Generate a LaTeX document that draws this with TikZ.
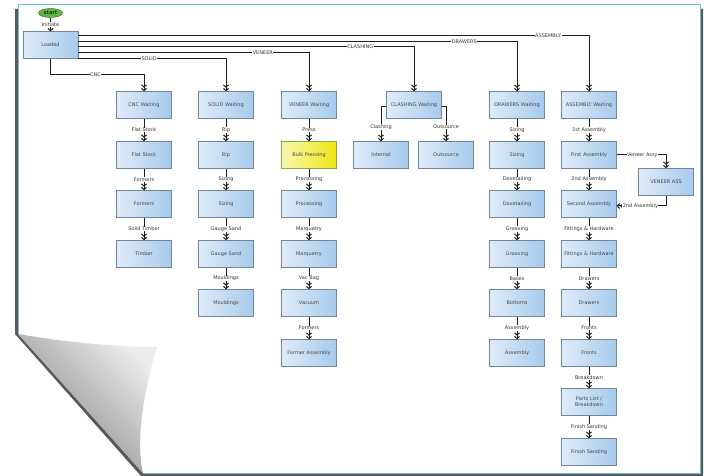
\documentclass[tikz,border=0pt]{standalone}
\usepackage{fontspec}
\setmainfont{DejaVu Sans}
\usetikzlibrary{arrows.meta,shapes.geometric,positioning,calc,shadows}
\definecolor{boxleft}{RGB}{224,236,248}
\definecolor{boxright}{RGB}{166,202,236}
\definecolor{boxedge}{RGB}{112,134,160}
\definecolor{boxtext}{RGB}{60,72,86}
\definecolor{pagecyan}{RGB}{104,196,222}
\definecolor{startgreen}{RGB}{96,184,64}
\definecolor{startedge}{RGB}{40,100,30}
\definecolor{hotleft}{RGB}{248,248,176}
\definecolor{hotright}{RGB}{240,230,20}
\definecolor{hotedge}{RGB}{128,172,72}
\definecolor{wiregray}{RGB}{30,30,30}
\newcommand{\tinyfont}{\fontsize{5}{6.2}\selectfont}

\begin{document}
\begin{tikzpicture}[x=1pt,y=-1pt,
  state/.style={draw=boxedge,left color=boxleft,right color=boxright,
              minimum width=55pt,minimum height=27pt,inner sep=1pt,
              font=\tinyfont,text=boxtext,align=center,
              drop shadow={shadow xshift=0.9pt,shadow yshift=-0.9pt,
                           opacity=0.6,fill=black}},
  hotstate/.style={state,draw=hotedge,left color=hotleft,right color=hotright},
  startnode/.style={ellipse,draw=startedge,fill=startgreen,minimum width=24pt,
              minimum height=9pt,inner sep=0pt,
              font=\fontsize{5}{6}\selectfont\bfseries,text=black!85},
  lbl/.style={fill=white,inner sep=0.5pt,font=\tinyfont,text=black!80},
  arr/.style={-{Straight Barb[length=2.2pt,width=5pt,sep=0.2pt]
              Straight Barb[length=2.2pt,width=5pt]},
              line width=1pt,color=wiregray}]
\useasboundingbox (0,0) rectangle (710,476);
% page with curled corner
\fill[black!65] (15,9) -- (15,334) -- (141,476) -- (703,476) -- (703,9) -- cycle;
\fill[white] (18,4.5) -- (18,333) -- (143,473) -- (700,473) -- (700,4.5) -- cycle;
\draw[pagecyan,line width=1pt] (18,333) -- (18,4.5) -- (700,4.5) -- (700,473)
  -- (143,473);
\shade[top color=gray!15,bottom color=black!50,shading angle=-45]
  (18,334) .. controls (70,343) and (120,347) .. (157,347)
  .. controls (145,385) and (135,440) .. (143,473) -- cycle;

\node[startnode](start) at (50.5,13) {start};
\node[state](loaded) at (50.5,45) {Loaded};
% waiting row
\node[state](cncw)     at (144,105) {CNC Waiting};
\node[state](solidw)   at (226,105) {SOLID Waiting};
\node[state](veneerw)  at (309,105) {VENEER Waiting};
\node[state](clashw)   at (414,105) {CLASHING Waiting};
\node[state](drawersw) at (517,105) {DRAWERS Waiting};
\node[state](assyw)    at (589,105) {ASSEMBLY Waiting};
% CNC
\node[state](flat)       at (144,155) {Flat Stock};
\node[state](cncformers) at (144,204) {Formers};
\node[state](timber)     at (144,254) {Timber};
% SOLID
\node[state](rip)         at (226,155) {Rip};
\node[state](solidsizing) at (226,204) {Sizing};
\node[state](gauge)       at (226,254) {Gauge Sand};
\node[state](mouldings)   at (226,303) {Mouldings};
% VENEER
\node[hotstate](bulk)   at (309,155) {Bulk Pressing};
\node[state](processing) at (309,204) {Processing};
\node[state](marquetry)  at (309,254) {Marquetry};
\node[state](vacuum)     at (309,303) {Vacuum};
\node[state](formerassy) at (309,353) {Former Assembly};
% CLASHING
\node[state](internal) at (381,155) {Internal};
\node[state](outsrc)   at (446,155) {Outsource};
% DRAWERS
\node[state](drsizing) at (517,155) {Sizing};
\node[state](dovetail) at (517,204) {Dovetailing};
\node[state](grooving) at (517,254) {Grooving};
\node[state](bottoms)  at (517,303) {Bottoms};
\node[state](drassy)   at (517,353) {Assembly};
% ASSEMBLY
\node[state](firsta)    at (589,155) {First Assembly};
\node[state](seconda)   at (589,204) {Second Assembly};
\node[state](fittings)  at (589,254) {Fittings \& Hardware};
\node[state](asdrawers) at (589,303) {Drawers};
\node[state](fronts)    at (589,353) {Fronts};
\node[state](parts)     at (589,402) {Parts List /\\Breakdown};
\node[state](finish)    at (589,452) {Finish Sanding};
\node[state](veneera)   at (666,182) {VENEER ASS};

\draw[arr](start)--node[lbl]{Initiate}(loaded);
% routes out of Loaded
\draw[arr]([yshift=9pt]loaded.east) -| node[lbl,pos=0.46]{ASSEMBLY} (assyw);
\draw[arr]([yshift=3.4pt]loaded.east) -| node[lbl,pos=0.44]{DRAWERS} (drawersw);
\draw[arr]([yshift=-2pt]loaded.east) -| node[lbl,pos=0.42]{CLASHING} (clashw);
\draw[arr]([yshift=-7.5pt]loaded.east) -| node[lbl,pos=0.4]{VENEER} (veneerw);
\draw[arr](loaded.south east) -| node[lbl,pos=0.24]{SOLID} (solidw);
\draw[arr](loaded.south) |- node[lbl,pos=0.74]{CNC} ([yshift=16.5pt]cncw.north)
  -- (cncw);
% CNC
\draw[arr](cncw)--node[lbl]{Flat Stock}(flat);
\draw[arr](flat)--node[lbl]{Formers}(cncformers);
\draw[arr](cncformers)--node[lbl]{Solid Timber}(timber);
% SOLID
\draw[arr](solidw)--node[lbl]{Rip}(rip);
\draw[arr](rip)--node[lbl]{Sizing}(solidsizing);
\draw[arr](solidsizing)--node[lbl]{Gauge Sand}(gauge);
\draw[arr](gauge)--node[lbl]{Mouldings}(mouldings);
% VENEER
\draw[arr](veneerw)--node[lbl]{Press}(bulk);
\draw[arr](bulk)--node[lbl]{Processing}(processing);
\draw[arr](processing)--node[lbl]{Marquetry}(marquetry);
\draw[arr](marquetry)--node[lbl]{Vac Bag}(vacuum);
\draw[arr](vacuum)--node[lbl]{Formers}(formerassy);
% CLASHING
\draw[arr]([yshift=-2pt]clashw.west) -| node[lbl,pos=0.79]{Clashing} (internal);
\draw[arr]([yshift=-2pt]clashw.east) -| node[lbl,pos=0.79]{Outsource} (outsrc);
% DRAWERS
\draw[arr](drawersw)--node[lbl]{Sizing}(drsizing);
\draw[arr](drsizing)--node[lbl]{Dovetailing}(dovetail);
\draw[arr](dovetail)--node[lbl]{Grooving}(grooving);
\draw[arr](grooving)--node[lbl]{Bases}(bottoms);
\draw[arr](bottoms)--node[lbl]{Assembly}(drassy);
% ASSEMBLY
\draw[arr](assyw)--node[lbl]{1st Assembly}(firsta);
\draw[arr](firsta)--node[lbl]{2nd Assembly}(seconda);
\draw[arr](seconda)--node[lbl]{Fittings \& Hardware}(fittings);
\draw[arr](fittings)--node[lbl]{Drawers}(asdrawers);
\draw[arr](asdrawers)--node[lbl]{Fronts}(fronts);
\draw[arr](fronts)--node[lbl]{Breakdown}(parts);
\draw[arr](parts)--node[lbl]{Finish Sanding}(finish);
\draw[arr](firsta.east) -| node[lbl,pos=0.26]{Veneer Assy} (veneera);
\draw[arr](veneera.south) |- node[lbl,pos=0.76]{2nd Assembly}
  ([yshift=-2pt]seconda.east);
\end{tikzpicture}
\end{document}
